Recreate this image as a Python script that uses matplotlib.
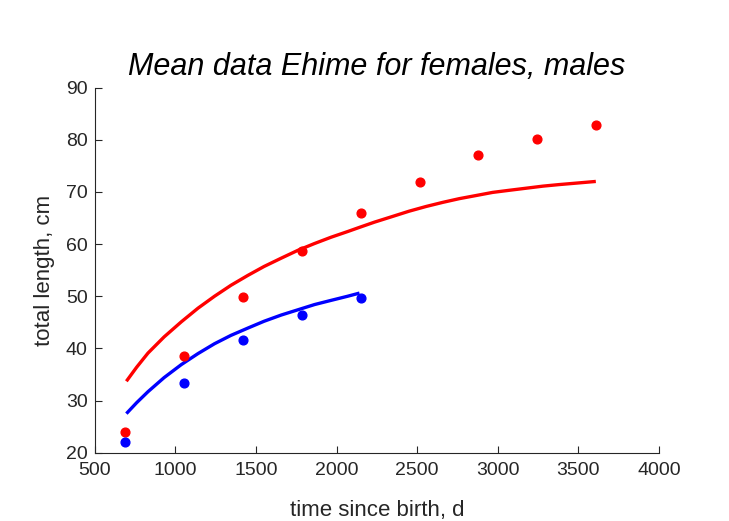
import matplotlib
matplotlib.use('Agg')
import matplotlib.pyplot as plt

plt.rcParams['font.family'] = ['Liberation Sans', 'DejaVu Sans']

# observed means (time since birth, d ; total length, cm)
t_fem = [690, 1055, 1420, 1785, 2150, 2515, 2880, 3245, 3610]
L_fem = [24.0, 38.5, 49.8, 58.6, 65.9, 71.9, 77.0, 80.2, 82.9]
t_mal = [690, 1055, 1420, 1785, 2150]
L_mal = [22.1, 33.4, 41.7, 46.4, 49.7]

# fitted curves
tc_fem = [696, 760, 830, 930, 1037, 1140, 1243, 1345, 1450, 1550, 1657, 1760, 1863,
          1965, 2069, 2142, 2235, 2348, 2450, 2555, 2660, 2761, 2865, 2968, 3070,
          3175, 3280, 3381, 3495, 3608]
Lc_fem = [33.7, 36.4, 39.1, 42.2, 45.1, 47.7, 50.0, 52.1, 54.0, 55.7, 57.3, 58.8, 60.1,
          61.3, 62.4, 63.2, 64.2, 65.3, 66.3, 67.2, 68.0, 68.7, 69.3, 69.9, 70.3,
          70.7, 71.1, 71.4, 71.7, 72.0]
tc_mal = [696, 760, 830, 930, 1037, 1140, 1243, 1345, 1450, 1550, 1657, 1760, 1863,
          1965, 2069, 2142]
Lc_mal = [27.5, 29.6, 31.7, 34.4, 36.9, 39.0, 40.9, 42.5, 43.9, 45.2, 46.4, 47.4, 48.4,
          49.2, 50.0, 50.6]

fig = plt.figure(figsize=(7.29, 5.21), dpi=100)
ax = fig.add_axes([0.130, 0.131, 0.774, 0.701])

ax.plot(tc_fem, Lc_fem, color='red', linewidth=2.4, solid_capstyle='butt')
ax.plot(tc_mal, Lc_mal, color='blue', linewidth=2.4, solid_capstyle='butt')
ax.plot(t_fem, L_fem, 'o', color='red', markersize=6.3)
ax.plot(t_mal, L_mal, 'o', color='blue', markersize=6.3)

ax.set_xlim(500, 4000)
ax.set_ylim(20, 90)
ax.set_xticks(range(500, 4001, 500))
ax.set_yticks(range(20, 91, 10))

ax.spines['top'].set_visible(False)
ax.spines['right'].set_visible(False)
for s in ['left', 'bottom']:
    ax.spines[s].set_color('#262626')
    ax.spines[s].set_linewidth(0.8)
ax.tick_params(direction='in', colors='#262626', labelsize=14, length=5)
ax.tick_params(axis='x', pad=7)
ax.tick_params(axis='y', pad=5)

ax.set_xlabel('time since birth, d', fontsize=16, color='#262626', labelpad=15)
ax.set_ylabel('total length, cm', fontsize=16, color='#262626', labelpad=8)
ax.set_title('Mean data Ehime for females, males', fontsize=22, style='italic', pad=9)

fig.savefig('out.png', dpi=100)
